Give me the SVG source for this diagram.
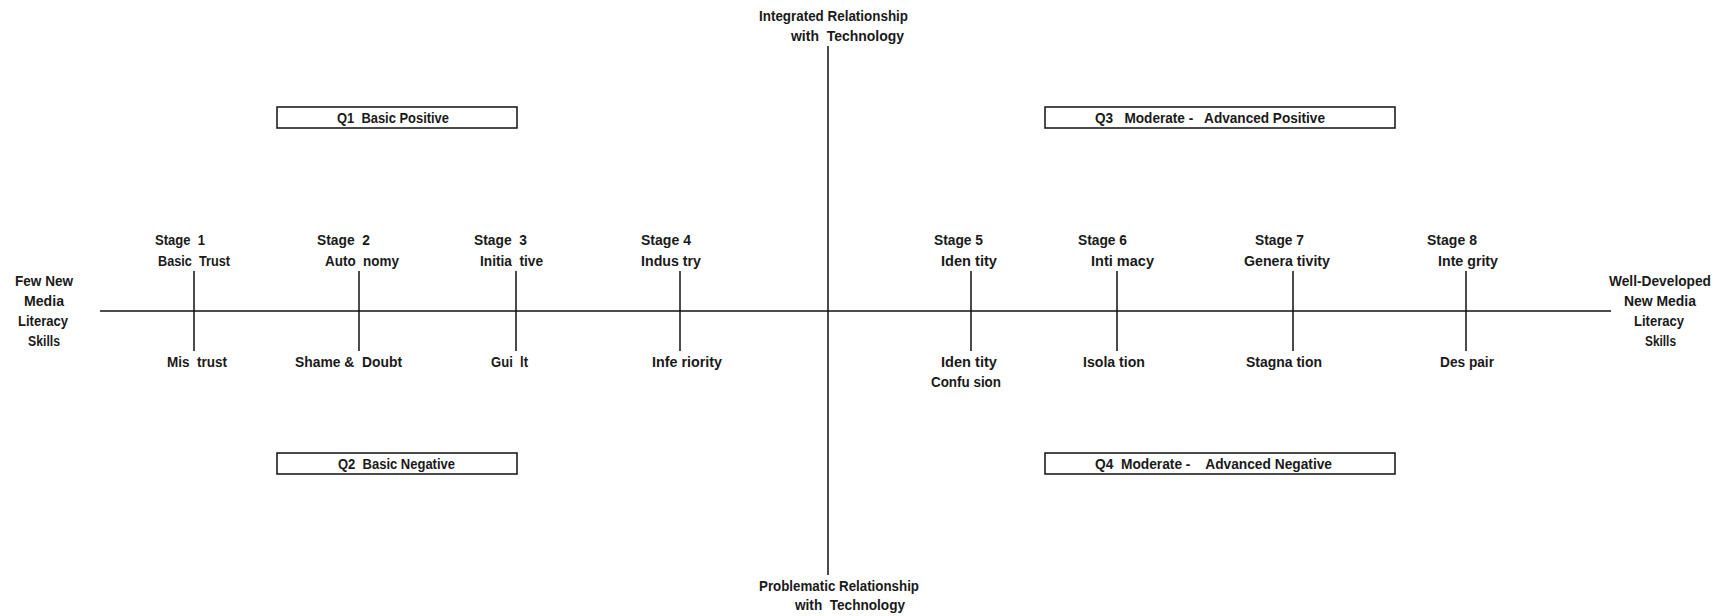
<svg xmlns="http://www.w3.org/2000/svg" width="1731" height="616" viewBox="0 0 1731 616">
<style>
text{font-family:"Liberation Sans",Arial,sans-serif;font-size:14px;font-weight:bold;fill:#1a1a1a;white-space:pre}
.ln{stroke:#111;stroke-width:1.5;fill:none}
.box{stroke:#111;stroke-width:1.5;fill:#fff}
</style>
<rect width="1731" height="616" fill="#fff"/>
<g id="connectors">
<line class="ln" x1="100" y1="311" x2="1611" y2="311"/>
<line class="ln" x1="828" y1="46" x2="828" y2="575"/>
<line class="ln" x1="194" y1="271" x2="194" y2="351"/>
<line class="ln" x1="359" y1="271" x2="359" y2="351"/>
<line class="ln" x1="516" y1="271" x2="516" y2="351"/>
<line class="ln" x1="680" y1="271" x2="680" y2="351"/>
<line class="ln" x1="971" y1="271" x2="971" y2="351"/>
<line class="ln" x1="1117" y1="271" x2="1117" y2="351"/>
<line class="ln" x1="1293" y1="271" x2="1293" y2="351"/>
<line class="ln" x1="1466" y1="271" x2="1466" y2="351"/>
</g>
<g id="axis-top">
<text x="759" y="21" textLength="149" lengthAdjust="spacingAndGlyphs">Integrated Relationship</text>
<text x="791" y="41" textLength="113" lengthAdjust="spacingAndGlyphs">with  Technology</text>
</g>
<g id="axis-bottom">
<text x="759" y="591" textLength="160" lengthAdjust="spacingAndGlyphs">Problematic Relationship</text>
<text x="795" y="610" textLength="110" lengthAdjust="spacingAndGlyphs">with  Technology</text>
</g>
<g id="axis-left">
<text x="15" y="286" textLength="58" lengthAdjust="spacingAndGlyphs">Few New</text>
<text x="24" y="306" textLength="40" lengthAdjust="spacingAndGlyphs">Media</text>
<text x="18" y="326" textLength="50" lengthAdjust="spacingAndGlyphs">Literacy</text>
<text x="28" y="346" textLength="32" lengthAdjust="spacingAndGlyphs">Skills</text>
</g>
<g id="axis-right">
<text x="1609" y="286" textLength="102" lengthAdjust="spacingAndGlyphs">Well-Developed</text>
<text x="1624" y="306" textLength="72" lengthAdjust="spacingAndGlyphs">New Media</text>
<text x="1634" y="326" textLength="50" lengthAdjust="spacingAndGlyphs">Literacy</text>
<text x="1645" y="346" textLength="31" lengthAdjust="spacingAndGlyphs">Skills</text>
</g>
<g id="q1">
<rect class="box" x="277" y="107" width="240" height="21"/>
<text x="337" y="123" textLength="112" lengthAdjust="spacingAndGlyphs">Q1  Basic Positive</text>
</g>
<g id="q2">
<rect class="box" x="277" y="453" width="240" height="21"/>
<text x="338" y="469" textLength="117" lengthAdjust="spacingAndGlyphs">Q2  Basic Negative</text>
</g>
<g id="q3">
<rect class="box" x="1045" y="107" width="350" height="21"/>
<text x="1095" y="123" textLength="230" lengthAdjust="spacingAndGlyphs">Q3   Moderate -   Advanced Positive</text>
</g>
<g id="q4">
<rect class="box" x="1045" y="453" width="350" height="21"/>
<text x="1095" y="469" textLength="237" lengthAdjust="spacingAndGlyphs">Q4  Moderate -    Advanced Negative</text>
</g>
<g id="stage1">
<text x="155" y="245" textLength="50" lengthAdjust="spacingAndGlyphs">Stage  1</text>
<text x="158" y="266" textLength="72" lengthAdjust="spacingAndGlyphs">Basic  Trust</text>
<text x="167" y="367" textLength="60" lengthAdjust="spacingAndGlyphs">Mis  trust</text>
</g>
<g id="stage2">
<text x="317" y="245" textLength="53" lengthAdjust="spacingAndGlyphs">Stage  2</text>
<text x="325" y="266" textLength="74" lengthAdjust="spacingAndGlyphs">Auto  nomy</text>
<text x="295" y="367" textLength="107" lengthAdjust="spacingAndGlyphs">Shame &amp;  Doubt</text>
</g>
<g id="stage3">
<text x="474" y="245" textLength="53" lengthAdjust="spacingAndGlyphs">Stage  3</text>
<text x="480" y="266" textLength="63" lengthAdjust="spacingAndGlyphs">Initia  tive</text>
<text x="491" y="367" textLength="37" lengthAdjust="spacingAndGlyphs">Gui  lt</text>
</g>
<g id="stage4">
<text x="641" y="245" textLength="50" lengthAdjust="spacingAndGlyphs">Stage 4</text>
<text x="641" y="266" textLength="60" lengthAdjust="spacingAndGlyphs">Indus try</text>
<text x="652" y="367" textLength="70" lengthAdjust="spacingAndGlyphs">Infe riority</text>
</g>
<g id="stage5">
<text x="934" y="245" textLength="49" lengthAdjust="spacingAndGlyphs">Stage 5</text>
<text x="941" y="266" textLength="56" lengthAdjust="spacingAndGlyphs">Iden tity</text>
<text x="941" y="367" textLength="56" lengthAdjust="spacingAndGlyphs">Iden tity</text>
<text x="931" y="387" textLength="70" lengthAdjust="spacingAndGlyphs">Confu sion</text>
</g>
<g id="stage6">
<text x="1078" y="245" textLength="49" lengthAdjust="spacingAndGlyphs">Stage 6</text>
<text x="1091" y="266" textLength="63" lengthAdjust="spacingAndGlyphs">Inti macy</text>
<text x="1083" y="367" textLength="62" lengthAdjust="spacingAndGlyphs">Isola tion</text>
</g>
<g id="stage7">
<text x="1255" y="245" textLength="49" lengthAdjust="spacingAndGlyphs">Stage 7</text>
<text x="1244" y="266" textLength="86" lengthAdjust="spacingAndGlyphs">Genera tivity</text>
<text x="1246" y="367" textLength="76" lengthAdjust="spacingAndGlyphs">Stagna tion</text>
</g>
<g id="stage8">
<text x="1427" y="245" textLength="50" lengthAdjust="spacingAndGlyphs">Stage 8</text>
<text x="1438" y="266" textLength="60" lengthAdjust="spacingAndGlyphs">Inte grity</text>
<text x="1440" y="367" textLength="54" lengthAdjust="spacingAndGlyphs">Des pair</text>
</g>
</svg>
